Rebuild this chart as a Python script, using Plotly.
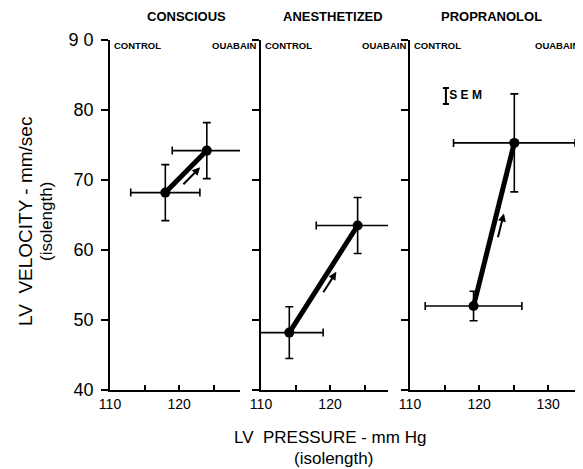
import math
import plotly.graph_objects as go

# ---------------- data ----------------
PANELS = ["CONSCIOUS", "ANESTHETIZED", "PROPRANOLOL"]
CONTROL_X = [118.0, 114.1, 119.2]      # LV pressure, control
CONTROL_Y = [68.2, 48.2, 52.0]         # LV velocity, control
OUABAIN_X = [124.0, 124.0, 125.1]      # LV pressure, ouabain
OUABAIN_Y = [74.2, 63.5, 75.3]         # LV velocity, ouabain
CONTROL_X_SEM = [5.0, 4.9, 7.0]
CONTROL_Y_SEM = [4.0, 3.7, 2.1]
OUABAIN_X_SEM = [5.0, 6.0, 8.8]
OUABAIN_Y_SEM = [4.0, 4.0, 7.0]
SEM_KEY_X = 115.2
SEM_KEY_Y = 82.0
SEM_KEY_HALF = 1.15
Y_TICKS = [40, 50, 60, 70, 80, 90]
Y_TICK_LABELS = ["40", "50", "60", "70", "80", "9 0"]
X_TICKS = [110, 115, 120, 125, 130, 135]
X_TICK_LABELS = ["110", "", "120", "", "130", ""]
X_MAX = [128.8, 128.4, 134.9]
Y_RANGE = [40, 90]

# ---------------- layout constants (pixels, in the 583x469 view) ----------------
OFF = 8                      # page body margin of the html page
W, H = 583 - OFF, 469 - OFF  # figure size so it fits the window
P_LEFT = [110, 261, 410]
P_RIGHT = [240, 388, 582]
Y_TOP_PX, Y_BOT_PX = 40, 390
FONT = "Liberation Sans"


def fx(px):
    return (px - OFF) / W


def fy(py):
    return 1 - (py - OFF) / H


fig = go.Figure()

for i in range(3):
    xa = "x" if i == 0 else f"x{i+1}"
    ya = "y" if i == 0 else f"y{i+1}"
    fig.add_trace(go.Scatter(
        x=[CONTROL_X[i], OUABAIN_X[i]], y=[CONTROL_Y[i], OUABAIN_Y[i]],
        mode="lines+markers",
        line=dict(color="black", width=5),
        marker=dict(color="black", size=10),
        error_x=dict(type="data", array=[CONTROL_X_SEM[i], OUABAIN_X_SEM[i]],
                     color="black", thickness=1.6, width=4),
        error_y=dict(type="data", array=[CONTROL_Y_SEM[i], OUABAIN_Y_SEM[i]],
                     color="black", thickness=1.6, width=4),
        cliponaxis=False, showlegend=False, xaxis=xa, yaxis=ya,
    ))

# SEM key in third panel
fig.add_trace(go.Scatter(
    x=[SEM_KEY_X], y=[SEM_KEY_Y], mode="text", text=["<b> S E M</b>"],
    textposition="middle right", textfont=dict(family=FONT, size=12, color="black"),
    error_y=dict(type="data", array=[SEM_KEY_HALF], color="black", thickness=2, width=3),
    cliponaxis=False, showlegend=False, xaxis="x3", yaxis="y3",
))

layout = dict(
    width=W, height=H, margin=dict(l=0, r=0, t=0, b=0, pad=0, autoexpand=False),
    paper_bgcolor="white", plot_bgcolor="white", showlegend=False,
)
annotations = []
for i in range(3):
    sfx = "" if i == 0 else str(i + 1)
    layout["xaxis" + sfx] = dict(
        domain=[fx(P_LEFT[i]), min(1.0, fx(P_RIGHT[i]))], range=[110, X_MAX[i]],
        anchor="y" + sfx, showline=True, linecolor="black", linewidth=1.5,
        showgrid=False, zeroline=False, ticks="inside", ticklen=5, tickwidth=1.5,
        tickcolor="black", tickvals=X_TICKS, ticktext=X_TICK_LABELS,
        tickfont=dict(family=FONT, size=14, color="black"), automargin=False,
    )
    layout["yaxis" + sfx] = dict(
        domain=[fy(Y_BOT_PX), fy(Y_TOP_PX)], range=Y_RANGE, anchor="x" + sfx,
        showline=True, linecolor="black", linewidth=1.5,
        showgrid=False, zeroline=False, ticks="outside", ticklen=7, tickwidth=1.5,
        tickcolor="black", tickvals=Y_TICKS, ticktext=Y_TICK_LABELS,
        showticklabels=(i == 0), automargin=False, ticklabelstandoff=4,
        tickfont=dict(family=FONT, size=18, color="black"),
    )
    # panel title
    annotations.append(dict(
        text=f"<b>{PANELS[i]}</b>", xref="paper", yref="paper",
        x=fx([186, 333, 491][i]), y=fy(17), showarrow=False,
        font=dict(family=FONT, size=13, color="black"),
        xanchor="center", yanchor="middle",
    ))
    annotations.append(dict(
        text="<b>CONTROL</b>", xref="paper", yref="paper",
        x=fx(P_LEFT[i] + 2), y=fy(46), showarrow=False,
        font=dict(family=FONT, size=9.5, color="black"),
        xanchor="left", yanchor="middle",
    ))
    annotations.append(dict(
        text="<b>OUABAIN</b>", xref="paper", yref="paper",
        x=fx([258, 408, 581][i]), y=fy(46), showarrow=False,
        font=dict(family=FONT, size=9.5, color="black"),
        xanchor="right", yanchor="middle",
    ))
    # direction arrow parallel to the line (fixed pixel length, centred)
    sx = (P_RIGHT[i] - P_LEFT[i]) / (X_MAX[i] - 110)
    sy = (Y_BOT_PX - Y_TOP_PX) / (Y_RANGE[1] - Y_RANGE[0])
    dx = OUABAIN_X[i] - CONTROL_X[i]
    dy = OUABAIN_Y[i] - CONTROL_Y[i]
    seg = math.hypot(dx * sx, dy * sy)
    half = 13.0 / seg
    t0, t1 = 0.5 - half, 0.5 + half
    px, py = dy * sy, -dx * sx
    n = math.hypot(px, py)
    off = 7.0
    annotations.append(dict(
        x=CONTROL_X[i] + t1 * dx, y=CONTROL_Y[i] + t1 * dy,
        ax=CONTROL_X[i] + t0 * dx, ay=CONTROL_Y[i] + t0 * dy,
        xref="x" + sfx, yref="y" + sfx, axref="x" + sfx, ayref="y" + sfx,
        text="", showarrow=True, arrowhead=2, arrowsize=0.8, arrowwidth=2,
        arrowcolor="black", standoff=0, startstandoff=0,
        xshift=off * px / n, yshift=off * py / n,
    ))

# axis titles
annotations += [
    dict(text="LV  VELOCITY - mm/sec", xref="paper", yref="paper",
         x=fx(25), y=fy(222), textangle=-90, showarrow=False,
         font=dict(family=FONT, size=19, color="black"), xanchor="center", yanchor="middle"),
    dict(text="(isolength)", xref="paper", yref="paper",
         x=fx(46), y=fy(222), textangle=-90, showarrow=False,
         font=dict(family=FONT, size=17, color="black"), xanchor="center", yanchor="middle"),
    dict(text="LV  PRESSURE - mm Hg", xref="paper", yref="paper",
         x=fx(330), y=fy(437), showarrow=False,
         font=dict(family=FONT, size=17, color="black"), xanchor="center", yanchor="middle"),
    dict(text="(isolength)", xref="paper", yref="paper",
         x=fx(333), y=fy(458), showarrow=False,
         font=dict(family=FONT, size=17, color="black"), xanchor="center", yanchor="middle"),
]
layout["annotations"] = annotations
fig.update_layout(**layout)
fig.write_html("out.html")
